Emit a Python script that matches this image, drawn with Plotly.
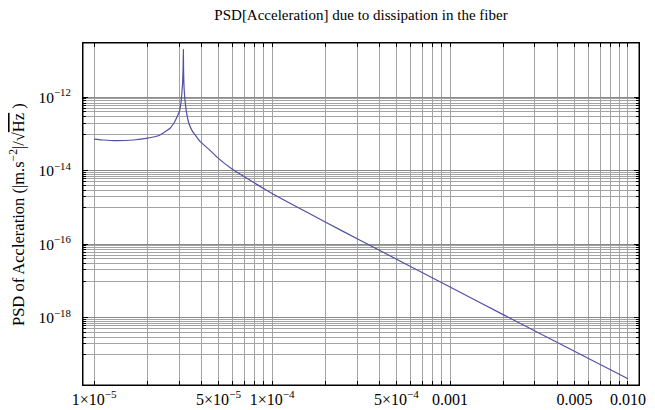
import plotly.graph_objects as go

# Data
freq = [1.0e-5, 1.12e-5, 1.33e-5, 1.66e-5, 1.96e-5, 2.33e-5, 2.56e-5, 2.66e-5,
        2.84e-5, 2.90e-5, 2.97e-5, 3.03e-5, 3.07e-5, 3.10e-5, 3.14e-5, 3.16e-5,
        3.17e-5, 3.18e-5, 3.20e-5, 3.25e-5, 3.31e-5, 3.40e-5, 3.53e-5, 3.70e-5,
        3.94e-5, 4.4e-5, 4.88e-5, 5.9e-5, 6.9e-5, 8.2e-5, 1.01e-4, 1.26e-4,
        2.0e-4, 3.12e-4, 1.0e-3, 2.0e-3, 1.0e-2]
psd = [7.3e-14, 6.9e-14, 6.6e-14, 6.9e-14, 7.6e-14, 9.3e-14, 1.25e-13, 1.42e-13,
       2.2e-13, 2.7e-13, 3.5e-13, 4.6e-13, 7.0e-13, 1.1e-12, 2.5e-12, 6.3e-12,
       2.0e-11, 5.0e-12, 1.8e-12, 7.0e-13, 3.6e-13, 2.0e-13, 1.3e-13, 9.3e-14,
       6.2e-14, 3.9e-14, 2.4e-14, 1.15e-14, 7.1e-15, 4.27e-15, 2.34e-15, 1.31e-15,
       3.98e-16, 1.29e-16, 6.9e-18, 1.2e-18, 2.2e-20]

x_tickvals = [1e-5, 5e-5, 1e-4, 5e-4, 1e-3, 5e-3, 1e-2]
x_ticktext = ["1×10<sup>−5</sup>", "5×10<sup>−5</sup>", "1×10<sup>−4</sup>",
              "5×10<sup>−4</sup>", "0.001", "0.005", "0.010"]
x_decades = [-5, -4, -3, -2]
y_tickvals = [1e-12, 1e-14, 1e-16, 1e-18]
y_ticktext = ["10<sup>−12</sup>", "10<sup>−14</sup>", "10<sup>−16</sup>", "10<sup>−18</sup>"]
y_minor_decades = [-13, -15, -17, -19]

x_minor = [k * 10.0 ** d for d in x_decades for k in range(1, 10)]
x_minor = [v for v in x_minor if v <= 1.0e-2 * 1.0001]
y_minor = [k * 10.0 ** d for d in y_minor_decades for k in range(1, 10)]

FONT = "Liberation Serif"

# the page body has an 8px default margin; size the figure to fit the window
W, H = 647, 402

fig = go.Figure()
fig.add_trace(go.Scatter(x=freq, y=psd, mode="lines",
                         line=dict(color="#5050a6", width=1.2, shape="spline",
                                   smoothing=0.4),
                         showlegend=False, hoverinfo="skip"))

fig.update_layout(
    width=W, height=H,
    margin=dict(l=75, r=16, t=35, b=25, autoexpand=False),
    paper_bgcolor="white", plot_bgcolor="white",
    title=dict(text="PSD[Acceleration] due to dissipation in the fiber",
               x=0.5, xref="paper", xanchor="center",
               y=1 - 7 / H, yref="container", yanchor="middle",
               font=dict(family=FONT, size=15, color="black")),
    font=dict(family=FONT, size=14, color="black"),
)

fig.update_xaxes(
    type="log", range=[-5.063, -1.938], automargin=False,
    tickmode="array", tickvals=x_tickvals, ticktext=x_ticktext,
    tickfont=dict(family=FONT, size=16, color="black"),
    showline=True, linecolor="black", linewidth=1, mirror="allticks",
    ticks="inside", ticklen=4, tickcolor="black", tickwidth=1,
    showgrid=True, gridcolor="#a3a3a3", gridwidth=1,
    zeroline=False,
    minor=dict(tickmode="array", tickvals=x_minor, showgrid=True,
               gridcolor="#a3a3a3", gridwidth=1, ticks="inside", ticklen=4,
               tickcolor="black"),
)
fig.update_yaxes(
    type="log", range=[-19.829, -10.522], automargin=False,
    tickmode="array", tickvals=y_tickvals, ticktext=y_ticktext,
    tickfont=dict(family=FONT, size=15.5, color="black"),
    ticklabelstandoff=8,
    showline=True, linecolor="black", linewidth=1, mirror="allticks",
    ticks="inside", ticklen=5, tickcolor="black", tickwidth=1,
    showgrid=True, gridcolor="#8a8a8a", gridwidth=1.4,
    zeroline=False,
    minor=dict(tickmode="array", tickvals=y_minor, showgrid=True,
               gridcolor="#a3a3a3", gridwidth=1, ticks="inside", ticklen=3,
               tickcolor="black"),
)

# plot frame
fig.add_shape(type="rect", xref="paper", yref="paper", x0=0, y0=0, x1=1, y1=1,
              line=dict(color="black", width=1), fillcolor="rgba(0,0,0,0)",
              layer="above")

fig.add_annotation(
    text="PSD of Accleration (|m.s<sup>−2</sup>|/√<span style='text-decoration:overline'>Hz</span> )",
    xref="paper", yref="paper", x=(17 - 83) / 556, y=(385 - 215) / 342,
    xanchor="center", yanchor="middle", textangle=-90, showarrow=False,
    font=dict(family=FONT, size=16.5, color="black"),
)

fig.write_html("out.html")
